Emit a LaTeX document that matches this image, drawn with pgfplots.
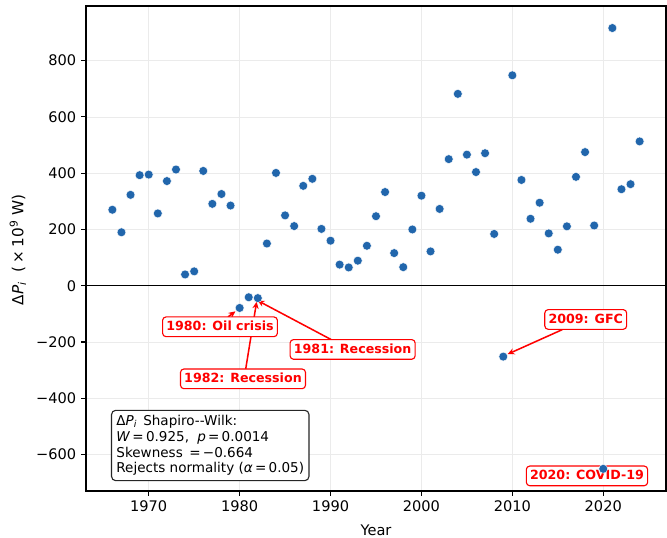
\documentclass[border=0pt]{standalone}
\usepackage{pgfplots}
\pgfplotsset{compat=1.18}
\usepackage{fontspec}
\setmainfont{DejaVu Sans}
\usetikzlibrary{arrows.meta}
\definecolor{dotblue}{HTML}{2166AC}
\definecolor{gridgray}{HTML}{EBEBEB}

\pgfplotstableread{
year val
1966 270
1967 190
1968 323
1969 393
1970 395
1971 257
1972 372
1973 413
1974 40
1975 51
1976 408
1977 291
1978 326
1979 285
1980 -79
1981 -41
1982 -44
1983 150
1984 401
1985 250
1986 212
1987 355
1988 380
1989 202
1990 160
1991 75
1992 65
1993 89
1994 142
1995 247
1996 333
1997 116
1998 66
1999 200
2000 320
2001 122
2002 273
2003 450
2004 682
2005 466
2006 404
2007 471
2008 184
2009 -252
2010 748
2011 376
2012 238
2013 295
2014 186
2015 128
2016 211
2017 387
2018 475
2019 214
2020 -651
2021 916
2022 343
2023 361
2024 513
}\datatable

\tikzset{
  ann/.style={draw=red, fill=white, rounded corners=2.5pt, text=red,
    font=\bfseries\fontsize{9.1}{10.8}\selectfont, inner xsep=2.7pt, inner ysep=2.7pt,
    text height=7.3pt, text depth=1.5pt, line width=0.8pt},
  arr/.style={red, line width=1.1pt, -{Stealth[length=5pt,width=4.5pt]}},
}

\begin{document}
\begin{tikzpicture}
\path[use as bounding box] (-61.92pt,-33.84pt) rectangle (418.32pt,353.52pt);
\begin{axis}[
  at={(0,0)}, anchor=south west,
  scale only axis, width=417.6pt, height=349.2pt,
  xmin=1963.1, xmax=2026.9, ymin=-729.7, ymax=994.4,
  xtick={1970,1980,1990,2000,2010,2020},
  xticklabels={1970,1980,1990,2000,2010,2020},
  ytick={-600,-400,-200,0,200,400,600,800},
  yticklabels={−600,−400,−200,0,200,400,600,800},
  grid=major, grid style={gridgray, line width=0.6pt},
  axis line style={line width=0.8pt},
  tick style={black, line width=0.8pt},
  tick align=outside, major tick length=3.5pt,
  xtick pos=bottom, ytick pos=left,
  tick label style={font=\fontsize{10.5}{12}\selectfont},
  every axis x label/.style={at={(axis description cs:0.5,0)}, anchor=base, yshift=-32.4pt, font=\fontsize{10.5}{12}\selectfont},
  every axis y label/.style={at={(axis description cs:-0.1173,0.497)}, anchor=center, rotate=90, font=\fontsize{11}{13}\selectfont},
  xlabel={Year},
  ylabel={Δ\textit{P}\textsubscript{\textit{i}}\hspace{0.6em}(\hspace{0.22em}×\hspace{0.22em}10\textsuperscript{9} W)},
  clip=false,
]
\draw[black, line width=0.9pt] (axis cs:1963.1,0) -- (axis cs:2026.9,0);

\draw[arr] (axis cs:1978.72,-111) -- (axis cs:1979.54,-91);
\draw[arr] (axis cs:1980.66,-297.5) -- (axis cs:1981.87,-57);
\draw[arr] (axis cs:1990.16,-193) -- (axis cs:1981.96,-52.5);
\draw[arr] (axis cs:2015.5,-156) -- (axis cs:2009.47,-243.5);

\node[ann] at (axis cs:1977.84,-146) {1980: Oil crisis};
\node[ann] at (axis cs:1980.37,-331) {1982: Recession};
\node[ann] at (axis cs:1992.43,-226.5) {1981: Recession};
\node[ann] at (axis cs:2018.07,-120) {2009: GFC};
\node[ann] at (axis cs:2018.21,-676) {2020: COVID-19};

\node[draw=black!85, line width=0.8pt, rounded corners=3pt, fill=white,
      anchor=north west, align=left, inner sep=3.5pt,
      font=\fontsize{9.75}{11.4}\selectfont] at (axis cs:1965.85,-441)
  {Δ\textit{P}\textsubscript{\textit{i}}\hspace{0.45em}Shapiro-{}-Wilk:\\
   \textit{W}\,=\,0.925,\hspace{0.6em}\textit{p}\,=\,0.0014\\
   Skewness \,=\,−0.664\\
   Rejects normality (\textit{α}\,=\,0.05)};

\addplot[only marks, mark=*, mark size=3.2pt,
  mark options={fill=dotblue, draw=white, line width=0.3pt}]
  table[x=year, y=val] {\datatable};
\end{axis}
\end{tikzpicture}
\end{document}
